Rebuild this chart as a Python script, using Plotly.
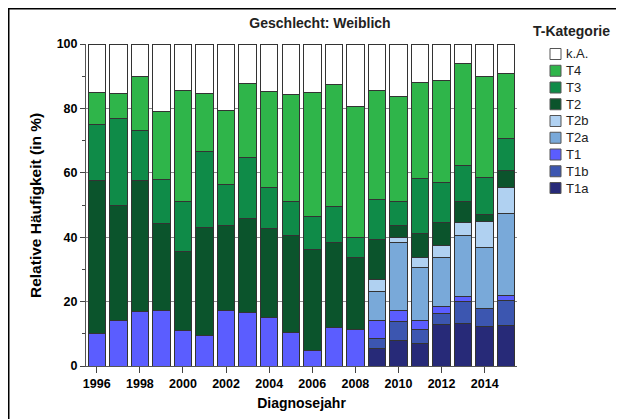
import plotly.graph_objects as go

# Diagnosejahre
JAHRE = list(range(1996, 2016))

# Anteile je T-Kategorie (in %), von unten nach oben gestapelt
T1A = [0, 0, 0, 0, 0, 0, 0, 0, 0, 0, 0, 0, 0, 5.4, 7.8, 7.1, 12.9, 13.1, 12.4, 12.6]
T1B = [0, 0, 0, 0, 0, 0, 0, 0, 0, 0, 0, 0, 0, 3.1, 5.9, 4.3, 3.5, 6.8, 5.4, 7.8]
T1 = [10.0, 14.0, 17.0, 17.3, 11.1, 9.5, 17.1, 16.5, 15.0, 10.5, 4.7, 11.9, 11.3, 5.5, 3.4, 2.8, 2.2, 1.7, 0.0, 1.5]
T2A = [0, 0, 0, 0, 0, 0, 0, 0, 0, 0, 0, 0, 0, 9.2, 21.4, 16.3, 15.2, 18.9, 18.9, 25.4]
T2B = [0, 0, 0, 0, 0, 0, 0, 0, 0, 0, 0, 0, 0, 3.7, 1.5, 3.3, 3.6, 4.2, 8.2, 8.2]
T2 = [47.6, 36.0, 40.6, 27.1, 24.6, 33.4, 26.6, 29.2, 27.6, 29.9, 31.5, 26.6, 22.5, 12.4, 3.6, 7.3, 7.3, 6.4, 2.2, 5.2]
T3 = [17.3, 26.9, 15.5, 13.4, 15.5, 23.7, 12.7, 18.9, 12.7, 10.8, 10.2, 11.1, 6.0, 12.3, 7.6, 17.2, 12.2, 11.2, 11.5, 10.1]
T4 = [10.1, 7.8, 16.9, 21.2, 34.3, 17.9, 22.9, 23.0, 29.8, 33.0, 38.6, 37.7, 40.9, 33.9, 32.6, 29.6, 31.7, 31.8, 31.4, 20.1]
KA = [15.0, 15.3, 10.0, 21.0, 14.5, 15.5, 20.7, 12.4, 14.9, 15.8, 15.0, 12.7, 19.3, 14.5, 16.2, 12.1, 11.4, 5.9, 10.0, 9.1]

SERIEN = [
    ("T1a", T1A, "#272a78"),
    ("T1b", T1B, "#3c56b0"),
    ("T1", T1, "#5b5dff"),
    ("T2a", T2A, "#79a9d9"),
    ("T2b", T2B, "#b0d1f1"),
    ("T2", T2, "#0b542c"),
    ("T3", T3, "#0f8b48"),
    ("T4", T4, "#2fb54a"),
    ("k.A.", KA, "#ffffff"),
]

SCHRIFT = "Liberation Sans Narrow, Arial Narrow, Liberation Sans, Arial, sans-serif"
SCHRIFT_NORMAL = "Liberation Sans, Arial, sans-serif"

# Die Seite hat 8px Rand; Figur entsprechend kleiner
OFF = 8
FW, FH = 624 - OFF, 419 - OFF
L, R, T, B = 86 - OFF, 107, 44 - OFF, 53
W = FW - L - R
H = FH - T - B


def px_x(p):
    # Seitenpixel -> paper-x
    return (p - OFF - L) / W


def px_y(p):
    # Seitenpixel -> paper-y
    return (FH - B - (p - OFF)) / H


fig = go.Figure()
for name, werte, farbe in SERIEN:
    fig.add_trace(
        go.Bar(
            x=JAHRE,
            y=werte,
            name=name,
            showlegend=False,
            marker=dict(color=farbe, line=dict(color="#333333", width=1)),
        )
    )

# Rahmen und Legende von Hand (engere Zeilen als die Plotly-Legende)
formen = [
    dict(
        type="rect", xref="paper", yref="paper",
        x0=px_x(8.75), x1=px_x(650), y0=px_y(450), y1=px_y(8.75),
        line=dict(color="black", width=1.5), fillcolor="rgba(0,0,0,0)", layer="below",
    )
]
notizen = [
    dict(
        text="T-Kategorie", xref="paper", yref="paper",
        x=px_x(571), y=px_y(31), xanchor="center", yanchor="middle", showarrow=False,
        font=dict(family=SCHRIFT_NORMAL, size=14, weight="bold", color="#222"),
    ),
    dict(
        text="Relative Häufigkeit (in %)", xref="paper", yref="paper",
        x=px_x(36), y=px_y(206), xanchor="center", yanchor="middle", showarrow=False,
        textangle=-90,
        font=dict(family=SCHRIFT_NORMAL, size=15.5, weight="bold", color="black"),
    ),
]
for i, (name, _, farbe) in enumerate(reversed(SERIEN)):
    yc = 54 + i * 16.75
    formen.append(
        dict(
            type="rect", xref="paper", yref="paper",
            x0=px_x(550), x1=px_x(561), y0=px_y(yc + 5.5), y1=px_y(yc - 5.5),
            line=dict(color="#555555", width=1), fillcolor=farbe,
        )
    )
    notizen.append(
        dict(
            text=name, xref="paper", yref="paper",
            x=px_x(564), y=px_y(yc), xanchor="left", yanchor="middle", showarrow=False,
            font=dict(family=SCHRIFT_NORMAL, size=13, color="#222"),
        )
    )

fig.update_layout(
    width=FW,
    height=FH,
    barmode="stack",
    bargap=0.19,
    paper_bgcolor="white",
    plot_bgcolor="white",
    margin=dict(l=L, r=R, t=T, b=B, autoexpand=False),
    font=dict(family=SCHRIFT, color="black", size=12),
    showlegend=False,
    title=dict(
        text="Geschlecht: Weiblich",
        x=(320 - OFF) / FW,
        xanchor="center",
        y=1 - (23 - OFF) / FH,
        yanchor="middle",
        font=dict(family=SCHRIFT_NORMAL, size=14, weight="bold", color="#222"),
    ),
    xaxis=dict(
        range=[1995.5, 2015.5],
        tickvals=list(range(1996, 2016, 2)),
        ticks="outside",
        ticklen=6,
        tickcolor="#444",
        showline=True,
        linecolor="#555",
        showgrid=False,
        zeroline=False,
        tickfont=dict(family=SCHRIFT, size=12.5, weight="bold"),
        title=dict(
            text="Diagnosejahr",
            font=dict(family=SCHRIFT, size=14, weight="bold"),
            standoff=8,
        ),
    ),
    yaxis=dict(
        range=[0, 100],
        tickvals=[0, 20, 40, 60, 80, 100],
        ticks="outside",
        ticklen=5,
        tickcolor="#444",
        showline=True,
        linecolor="#555",
        showgrid=True,
        gridcolor="#8a8a8a",
        gridwidth=1,
        zeroline=False,
        minor=dict(tickvals=[10, 30, 50, 70, 90], ticks="outside", ticklen=3, tickcolor="#444", showgrid=False),
        tickfont=dict(family=SCHRIFT, size=12.5, weight="bold"),
    ),
    shapes=formen,
    annotations=notizen,
)

fig.write_html("out.html")
